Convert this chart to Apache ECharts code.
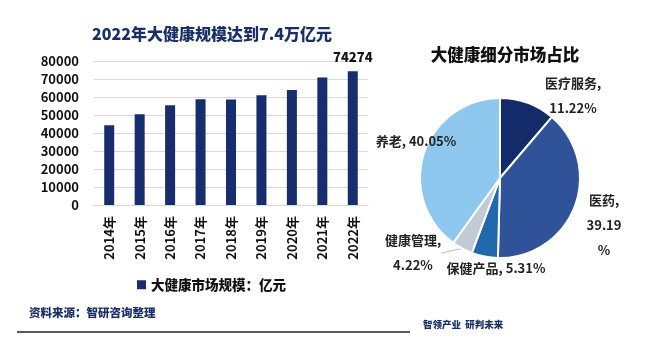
<!DOCTYPE html>
<html><head><meta charset="utf-8">
<script src="https://cdn.jsdelivr.net/npm/echarts@6/dist/echarts.min.js"></script>
<style>html,body{margin:0;padding:0;background:#fff}#c{width:661px;height:353px}</style>
</head><body><div id="c"></div>
<script>
const years = ['2014年','2015年','2016年','2017年','2018年','2019年','2020年','2021年','2022年'];
const marketSize = [44300, 50400, 55400, 58700, 58600, 61000, 63900, 70900, 74274];
const yTicks = [0, 10000, 20000, 30000, 40000, 50000, 60000, 70000, 80000];
const segNames = ['医疗服务', '医药', '保健产品', '健康管理', '养老'];
const segShares = [11.22, 39.19, 5.31, 4.22, 40.05];
const segLabels = ['医疗服务,\n11.22%', '医药,\n39.19\n%', '保健产品, 5.31%', '健康管理,\n4.22%', '养老, 40.05%'];

const FONT = '"Noto Sans CJK SC", "Noto Sans", sans-serif';
const NAVY = '#1a2f66';
const W = 'bold';
const segColors = ['#142b6a', '#2f5298', '#2168ad', '#c1cbd6', '#8ec8ee'];
const labelPos = [
  {x: 573, y: 96},
  {x: 604, y: 225},
  {x: 496, y: 268},
  {x: 413, y: 253},
  {x: 416, y: 141}
];

const chart = echarts.init(document.getElementById('c'));
chart.setOption({
  backgroundColor: '#fff',
  animation: false,
  textStyle: {fontFamily: FONT},
  title: [
    {text: '2022年大健康规模达到7.4万亿元', left: 207, top: 21, textAlign: 'center',
     textStyle: {fontFamily: FONT, fontSize: 16, fontWeight: 900, color: NAVY}},
    {text: '大健康细分市场占比', left: 500, top: 41, textAlign: 'center',
     textStyle: {fontFamily: FONT, fontSize: 16.5, fontWeight: 900, color: '#111'}}
  ],
  legend: {
    data: ['大健康市场规模：亿元'], left: 132, top: 273, itemWidth: 9, itemHeight: 9, itemGap: 6,
    icon: 'rect',
    textStyle: {fontFamily: FONT, fontSize: 13.5, fontWeight: 900, color: '#111'}
  },
  grid: {left: 94, right: 293, top: 61, bottom: 148, containLabel: false},
  xAxis: {
    type: 'category', data: years,
    axisLine: {show: true, lineStyle: {color: '#d9d9d9'}},
    axisTick: {show: false},
    axisLabel: {rotate: 90, interval: 0, margin: 11, fontFamily: FONT, fontSize: 13, fontWeight: W, color: '#111'}
  },
  yAxis: {
    type: 'value', min: yTicks[0], max: yTicks[yTicks.length - 1], interval: 10000,
    axisLine: {show: false}, axisTick: {show: false},
    splitLine: {lineStyle: {color: '#d9d9d9'}},
    axisLabel: {margin: 15, formatter: v => String(v), fontFamily: FONT, fontSize: 13, fontWeight: W, color: '#111'}
  },
  series: [
    {
      name: '大健康市场规模：亿元', type: 'bar', barWidth: 10,
      itemStyle: {color: '#172d6e'},
      data: marketSize.map((v, i) => ({
        value: v,
        label: {show: i === marketSize.length - 1, position: 'top', distance: 8,
                fontFamily: FONT, fontSize: 13, fontWeight: 900, color: '#111'}
      }))
    },
    {
      name: '细分', type: 'pie', center: [500, 178], radius: 80, startAngle: 90, clockwise: true,
      itemStyle: {borderColor: '#fff', borderWidth: 2},
      label: {show: true, position: 'outside', formatter: p => segLabels[p.dataIndex],
              fontFamily: FONT, fontSize: 13, fontWeight: W, color: '#222', lineHeight: 25},
      labelLine: {show: true, length: 0, length2: 0, lineStyle: {color: '#bbb', width: 1}},
      labelLayout: p => ({x: labelPos[p.dataIndex].x, y: labelPos[p.dataIndex].y, align: 'center', verticalAlign: 'middle'}),
      data: segNames.map((n, i) => ({name: n, value: segShares[i], itemStyle: {color: segColors[i]},
        labelLine: {show: i === 3}}))
    }
  ],
  graphic: [
    {type: 'text', left: 29, top: 307, style: {text: '资料来源：智研咨询整理', font: '900 11.5px ' + FONT, fill: NAVY}},
    {type: 'line', shape: {x1: 17, y1: 332, x2: 410, y2: 332}, style: {stroke: '#222', lineWidth: 1.5}},
    {type: 'text', left: 423, top: 320, style: {text: '智领产业  研判未来', font: '900 9.5px ' + FONT, fill: NAVY}}
  ]
});
</script></body></html>
